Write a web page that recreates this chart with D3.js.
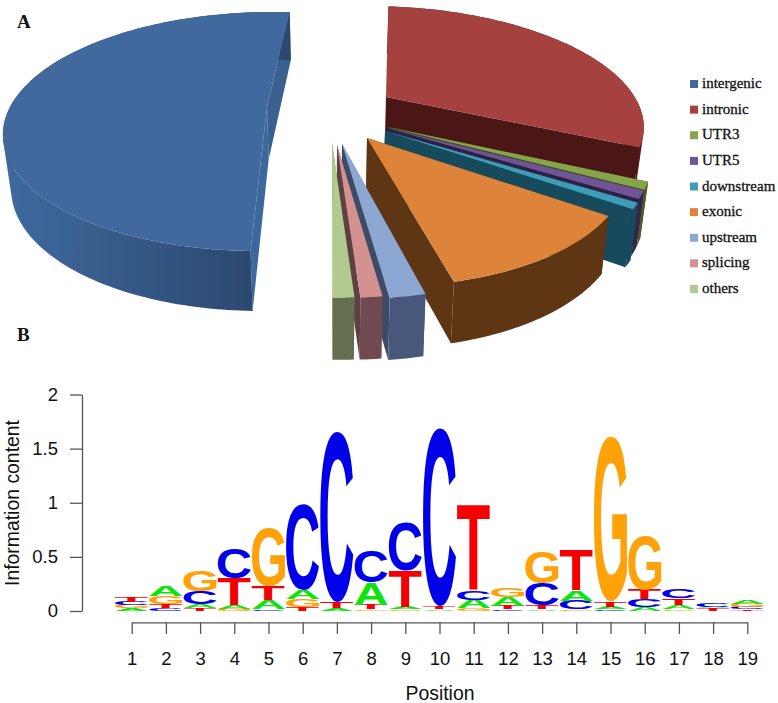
<!DOCTYPE html>
<html>
<head>
<meta charset="utf-8">
<script src="https://cdn.jsdelivr.net/npm/d3@7"></script>
<style>
  html, body { margin: 0; padding: 0; background: #fff; }
  svg { display: block; }
</style>
</head>
<body>
<div id="chart"></div>
<script>
// panel A values (percent of variants)
const pieCategories = ["intergenic", "intronic", "UTR3", "UTR5", "downstream", "exonic", "upstream", "splicing", "others"];
const pieValues = [50.89, 30.72, 1.0, 1.03, 0.83, 11.53, 1.81, 1.11, 1.08];

// panel B: logo stacks per position, bottom letter first
const positions = [1, 2, 3, 4, 5, 6, 7, 8, 9, 10, 11, 12, 13, 14, 15, 16, 17, 18, 19];
const stackLetters = [
    ["A", "G", "C", "T"], ["C", "T", "G", "A"], ["T", "A", "C", "G"], ["G", "A", "T", "C"],
    ["C", "A", "T", "G"], ["T", "G", "A", "C"], ["A", "T", "C"], ["G", "T", "A", "C"],
    ["G", "A", "T", "C"], ["A", "T", "C"], ["G", "A", "C", "T"], ["C", "T", "A", "G"],
    ["A", "T", "C", "G"], ["G", "C", "A", "T"], ["C", "A", "T", "G"], ["A", "C", "T", "G"],
    ["G", "A", "T", "C"], ["T", "A", "C"], ["T", "C", "G", "A"]
];
const stackBits = [
    [0.025, 0.03, 0.03, 0.045], [0.025, 0.04, 0.07, 0.09], [0.025, 0.035, 0.12, 0.19], [0.02, 0.035, 0.25, 0.28],
    [0.015, 0.085, 0.13, 0.53], [0.04, 0.075, 0.08, 0.79], [0.025, 0.055, 1.565], [0.015, 0.045, 0.2, 0.285],
    [0.015, 0.02, 0.335, 0.45], [0.015, 0.025, 1.65], [0.025, 0.08, 0.085, 0.79], [0.015, 0.03, 0.08, 0.085],
    [0.015, 0.04, 0.2, 0.29], [0.015, 0.08, 0.1, 0.37], [0.015, 0.025, 0.045, 1.52], [0.04, 0.07, 0.09, 0.5],
    [0.015, 0.04, 0.06, 0.08], [0.025, 0.015, 0.03], [0.015, 0.02, 0.03, 0.035]
];
const yTicks = [0, 0.5, 1, 1.5, 2];

// look of each slice: top face, outer wall, cut wall, and where its apex sits on the page
const sliceStyle = [
    {top: "#41699d", wall: "url(#blueWall)", cutA: "#3d689d", cutB: "#39608f", cx: 267, cy: 107, r: 1},
    {top: "#a5413f", wall: "#4a1616", cutA: "#4a1616", cutB: "#4a1616", cx: 386, cy: 97, r: 0.985},
    {top: "#86a44a", wall: "#4a5c28", cutA: "#4a5c28", cutB: "#3f4e22", cx: 388, cy: 127, r: 0.955},
    {top: "#6f5596", wall: "#36264e", cutA: "#36264e", cutB: "#2e2044", cx: 387, cy: 128, r: 0.955},
    {top: "#3f9cb6", wall: "#164a5c", cutA: "#164a5c", cutB: "#164a5c", cx: 385, cy: 131, r: 0.955},
    {top: "#dd843a", wall: "#5f3614", cutA: "#5f3614", cutB: "#5f3614", cx: 367, cy: 138, r: 0.93},
    {top: "#8da7d3", wall: "#47587a", cutA: "#47587a", cutB: "#3d4c66", cx: 342, cy: 144, r: 0.945},
    {top: "#d39290", wall: "#704a4e", cutA: "#704a4e", cutB: "#5c4044", cx: 337, cy: 145, r: 0.93},
    {top: "#b1ca90", wall: "#636f4e", cutA: "#636f4e", cutB: "#636f4e", cx: 332, cy: 143, r: 0.945}
];
const letterColor = {A: "#0ce40c", C: "#0000e8", G: "#ffa108", T: "#f40000"};

const width = 778, height = 703;

const svg = d3.select("#chart")
    .append("svg")
    .attr("width", width)
    .attr("height", height);

const grad = svg.append("defs").append("linearGradient")
    .attr("id", "blueWall")
    .attr("gradientUnits", "userSpaceOnUse")
    .attr("x1", 3).attr("x2", 255).attr("y1", 0).attr("y2", 0);
grad.append("stop").attr("offset", 0).attr("stop-color", "#3f6a9f");
grad.append("stop").attr("offset", 1).attr("stop-color", "#2b486f");

// ---------- panel A: exploded 3D pie ----------

// plane -> page projection, the pie plane is seen from the front with perspective
const persp = {xv: 300, y0: 107, A: 257, B: 114.5, p: 0.205};

function project(u, v) {
    const w = 1 + persp.p * v;
    return [persp.xv + persp.A * u / w, persp.y0 - persp.B * v / w];
}

function unproject(x, y) {
    const t = (persp.y0 - y) / persp.B;
    const v = t / (1 - persp.p * t);
    const w = 1 + persp.p * v;
    return [(x - persp.xv) * w / persp.A, v];
}

// same point on the underside of the slab
function drop(p) {
    return [p[0] + 0.025 * (persp.xv + 32 - p[0]), p[1] + 48 + 0.05 * (p[1] - 12)];
}

const pie = d3.pie()
    .sort(null)
    .startAngle(181.4 * Math.PI / 180)
    .endAngle((181.4 + 360) * Math.PI / 180);

const line = d3.line();
const pieG = svg.append("g");

pie(pieValues).forEach((d, i) => {
    const s = sliceStyle[i];
    const c = unproject(s.cx, s.cy);
    const apex = [s.cx, s.cy];
    const steps = Math.max(3, Math.ceil((d.endAngle - d.startAngle) / 0.02));
    const rim = d3.range(steps + 1).map(k => {
        const a = d.startAngle + (d.endAngle - d.startAngle) * k / steps;
        return project(c[0] + s.r * Math.sin(a), c[1] + s.r * Math.cos(a));
    });
    const first = rim[0], last = rim[rim.length - 1];

    // the wall folds over at the sides of the pie, so build it from quads that
    // all wind the same way, otherwise the overlap cancels out under nonzero fill
    const wallD = d3.range(steps).map(k => {
        const quad = [rim[k], rim[k + 1], drop(rim[k + 1]), drop(rim[k])];
        return line(d3.polygonArea(quad) < 0 ? quad.reverse() : quad) + "Z";
    }).join("");

    // cut walls first, the top face hides whatever is behind it
    pieG.append("path")
        .attr("d", line([apex, first, drop(first), drop(apex)]) + "Z")
        .attr("fill", s.cutA);
    pieG.append("path")
        .attr("d", line([apex, last, drop(last), drop(apex)]) + "Z")
        .attr("fill", s.cutB);
    pieG.append("path")
        .attr("d", wallD)
        .attr("fill", s.wall);
    pieG.append("path")
        .attr("d", line([apex].concat(rim)) + "Z")
        .attr("fill", s.top);
});

// legend
const legendY = d3.scalePoint().domain(pieCategories).range([84, 289]);

const legend = svg.append("g")
    .selectAll("g")
    .data(pieCategories)
    .join("g")
    .attr("transform", d => `translate(690, ${legendY(d)})`);

legend.append("rect")
    .attr("x", 0)
    .attr("y", -4)
    .attr("width", 8)
    .attr("height", 8)
    .attr("fill", (d, i) => sliceStyle[i].top);

legend.append("text")
    .attr("x", 12)
    .attr("y", 4)
    .text(d => d)
    .style("font-family", "'Liberation Serif', serif")
    .style("font-size", "15px")
    .attr("fill", "#111")
    .attr("stroke", "#111")
    .attr("stroke-width", 0.3);

// panel letters
svg.selectAll("text.panel")
    .data([{t: "A", y: 28}, {t: "B", y: 341}])
    .join("text")
    .attr("class", "panel")
    .attr("x", 17)
    .attr("y", d => d.y)
    .text(d => d.t)
    .style("font-family", "'Liberation Serif', serif")
    .style("font-weight", "bold")
    .style("font-size", "19px")
    .attr("fill", "#111");

// ---------- panel B: sequence logo ----------

const x = d3.scalePoint()
    .domain(positions)
    .range([131.7, 747.3]);

const y = d3.scaleLinear()
    .domain([0, 2])
    .range([611, 394.5]);

const axisFont = "'Liberation Sans', Arial, sans-serif";

const yAxis = svg.append("g")
    .attr("transform", "translate(82, 0)")
    .call(d3.axisLeft(y).tickValues(yTicks).tickFormat(d => String(d)).tickSize(12).tickSizeOuter(0).tickPadding(12));

const xAxis = svg.append("g")
    .attr("transform", "translate(0, 622.3)")
    .call(d3.axisBottom(x).tickSize(11.7).tickSizeOuter(0).tickPadding(18));

[yAxis, xAxis].forEach(ax => {
    ax.selectAll("path, line").attr("stroke", "#555").attr("stroke-width", 1.3);
    ax.selectAll("text")
        .style("font-family", axisFont)
        .style("font-size", "18.5px")
        .attr("fill", "#111");
});

svg.append("text")
    .attr("transform", "translate(18.5, 503) rotate(-90)")
    .attr("text-anchor", "middle")
    .text("Information content")
    .style("font-family", axisFont)
    .style("font-size", "19.4px")
    .attr("fill", "#111");

svg.append("text")
    .attr("x", 440)
    .attr("y", 700)
    .attr("text-anchor", "middle")
    .text("Position")
    .style("font-family", axisFont)
    .style("font-size", "19.4px")
    .attr("fill", "#111");

// ink box of a letter, needed to stretch the glyph to its stack height
const measure = document.createElement("canvas").getContext("2d");
measure.font = "bold 100px 'Liberation Sans'";
const ink = {};
Object.keys(letterColor).forEach(l => {
    const m = measure.measureText(l);
    ink[l] = {
        left: -m.actualBoundingBoxLeft,
        width: m.actualBoundingBoxRight + m.actualBoundingBoxLeft,
        asc: m.actualBoundingBoxAscent,
        height: m.actualBoundingBoxAscent + m.actualBoundingBoxDescent
    };
});

const letterW = x.step() * 0.97;
const logo = svg.append("g");

positions.forEach((pos, i) => {
    let base = 0;
    stackLetters[i].forEach((l, j) => {
        const bits = stackBits[i][j];
        const box = ink[l];
        const sx = letterW / box.width;
        const sy = (y(base) - y(base + bits)) / box.height;
        const x0 = x(pos) - letterW / 2 - box.left * sx;
        const y0 = y(base + bits) + box.asc * sy;
        logo.append("text")
            .attr("transform", `translate(${x0}, ${y0}) scale(${sx}, ${sy})`)
            .text(l)
            .style("font-family", "'Liberation Sans'")
            .style("font-weight", "bold")
            .style("font-size", "100px")
            .attr("fill", letterColor[l]);
        base += bits;
    });
});
</script>
</body>
</html>
